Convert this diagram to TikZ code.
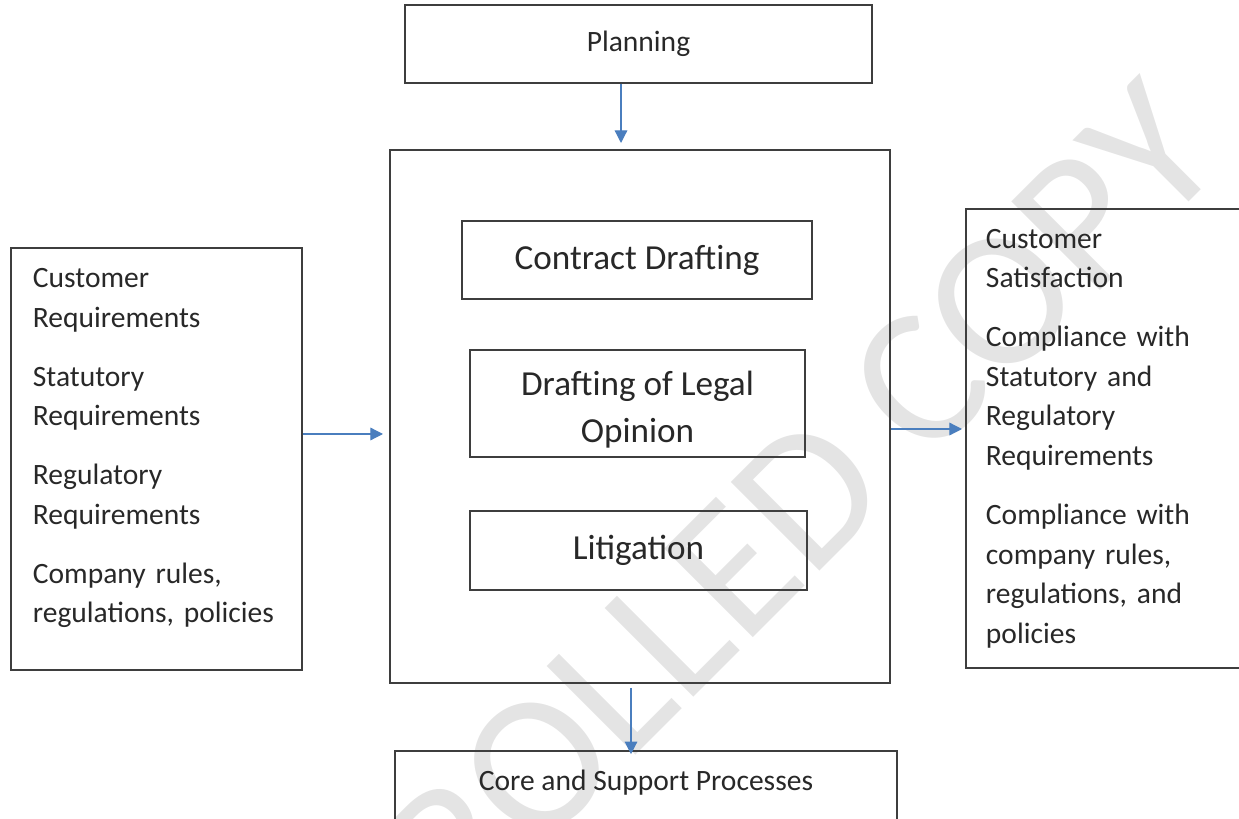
\documentclass[tikz,border=0pt]{standalone}
\usepackage{fontspec}
\setmainfont{Carlito}
\usetikzlibrary{arrows.meta}
\definecolor{boxline}{RGB}{62,62,62}
\definecolor{flowblue}{RGB}{74,126,190}
\definecolor{inktext}{RGB}{40,40,40}
\definecolor{stampgray}{RGB}{228,228,228}
\tikzset{
  box/.style={draw=boxline, line width=1.4pt, text=inktext, inner sep=0pt},
  sidetext/.style={font=\fontsize{21}{28.1}\selectfont},
  maintext/.style={font=\fontsize{25}{33.4}\selectfont},
  flow/.style={draw=flowblue, line width=0.9pt,
    -{Triangle[length=9pt,width=9pt]}},
}

\begin{document}
\begin{tikzpicture}[x=0.025cm,y=-0.025cm]
  \useasboundingbox (0,0) rectangle (1239,819);
  \clip (0,0) rectangle (1239,819);
  % watermark behind everything
  \node[text=stampgray, font=\fontsize{139}{139}\selectfont,
    rotate=45, anchor=base] (stamp) at (685,706) {CONTROLLED COPY};

  % central process block
  \node[box, minimum width=355.7pt, minimum height=379.1pt] (hub) at (640,416.5) {};
  \node[box, maintext, minimum width=249pt, minimum height=55.5pt] (contract) at (637,260) {Contract Drafting};
  \node[box, maintext, align=center, minimum width=238.3pt, minimum height=76.1pt] (opinion) at (637.5,403.5) {\rule{0pt}{26pt}Drafting of Legal\\Opinion};
  \node[box, maintext, minimum width=239.7pt, minimum height=56.2pt] (litigation) at (638.5,550.5) {Litigation};

  % top and bottom
  \node[box, sidetext, minimum width=332.2pt, minimum height=54.8pt] (planning) at (638.5,44) {Planning};
  \node[box, sidetext, anchor=north, minimum width=357.1pt,
    text height=28.4pt, text depth=35.6pt] (support) at (646,750) {Core and Support Processes};

  % inputs and outputs
  \node[box, sidetext, align=left, anchor=north west, text width=175.7pt,
    inner xsep=15.6pt, minimum height=300.2pt] (needs) at (10,247)
    {Customer\\Requirements\\[13.9pt]Statutory\\Requirements\\[13.9pt]Regulatory\\Requirements\\[13.9pt]Company rules,\\regulations,~policies\\[-9pt]\mbox{}};
  \node[box, sidetext, align=left, anchor=north west, text width=213.4pt,
    inner xsep=14.2pt, minimum height=326.5pt] (outcomes) at (965,208)
    {Customer\\Satisfaction\\[13.9pt]Compliance with\\Statutory and\\Regulatory\\Requirements\\[13.9pt]Compliance with\\company rules,\\regulations, and\\policies};

  % connectors
  \coordinate (planin) at (621,143);
  \draw[flow] (planning.south -| planin) -- (planin);
  \coordinate (needsin) at (383,434);
  \draw[flow] (needs.east |- needsin) -- (needsin);
  \coordinate (outin) at (962,429);
  \draw[flow] (hub.east |- outin) -- (outin);
  \coordinate (hubout) at (631,688);
  \draw[flow, shorten >=-3pt] (hubout) -- (support.north -| hubout);
\end{tikzpicture}
\end{document}
